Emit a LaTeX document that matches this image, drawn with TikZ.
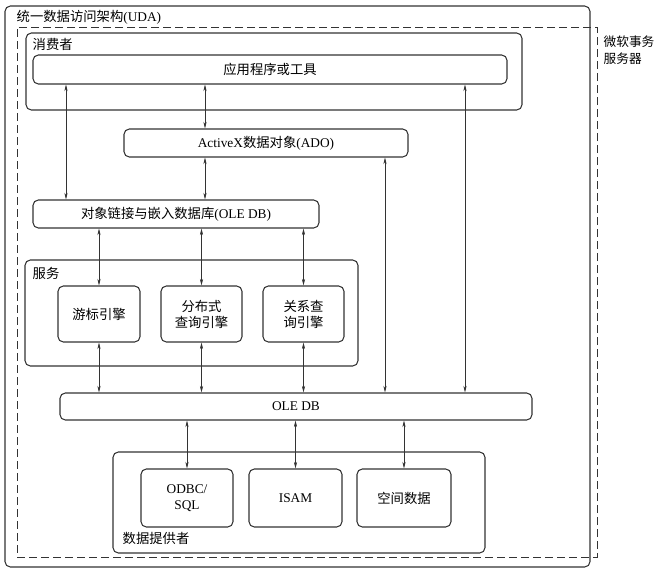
\documentclass[tikz,border=0pt]{standalone}
\usepackage{fontspec}
\setmainfont{Liberation Serif}
\newfontfamily\cjk{Noto Sans CJK SC}
\usetikzlibrary{arrows.meta}
\newcommand{\zh}[1]{{\cjk #1}}

\begin{document}
\begin{tikzpicture}[x=0.75pt,y=-0.75pt,
  every node/.style={font=\fontsize{10}{12}\selectfont},
  box/.style={draw=black!80,line width=0.8pt,rounded corners=4pt,inner sep=0pt},
  link/.style={draw=black!80,line width=0.4pt,{Stealth[length=5pt,width=2.4pt]}-{Stealth[length=5pt,width=2.4pt]}}]
  \useasboundingbox (0,0) rectangle (665,579);
  % outer frames
  \node[box,minimum width=438.75pt,minimum height=420.75pt] (uda) at (297.5,286.5) {};
  \node[anchor=west] (udat) at (12,17) {\zh{统一数据访问架构}(UDA)};
  \node[draw=black!80,dash pattern=on 6pt off 3pt,line width=0.5pt,minimum width=435pt,minimum height=397.5pt] (mts) at (307,292) {};
  \node[anchor=north west,align=left,font=\fontsize{9.5}{13}\selectfont] (mtst) at (599,31) {\zh{微软事务}\\\zh{服务器}};
  % consumer
  \node[box,minimum width=372pt,minimum height=57.75pt] (cons) at (274,71.5) {};
  \node[anchor=west] (const) at (28,44) {\zh{消费者}};
  \node[box,minimum width=355.5pt,minimum height=21.75pt] (app) at (270,69.5) {\zh{应用程序或工具}};
  % access layers
  \node[box,minimum width=213pt,minimum height=21pt] (ado) at (266,143) {ActiveX\zh{数据对象}(ADO)};
  \node[box,minimum width=214.5pt,minimum height=21pt] (oleobj) at (176,214) {\zh{对象链接与嵌入数据库}(OLE DB)};
  % services
  \node[box,minimum width=249.75pt,minimum height=79.5pt] (serv) at (191.5,313) {};
  \node[anchor=west] (servt) at (28,273) {\zh{服务}};
  \node[box,minimum width=61.5pt,minimum height=42pt] (cursor) at (99,314) {\zh{游标引擎}};
  \node[box,minimum width=60.75pt,minimum height=42pt,align=center] (distq) at (201.5,314) {\zh{分布式}\\\zh{查询引擎}};
  \node[box,minimum width=60.75pt,minimum height=42pt,align=center] (relq) at (303.5,314) {\zh{关系查}\\\zh{询引擎}};
  \node[box,minimum width=354pt,minimum height=20.25pt] (oledb) at (296,406.5) {OLE DB};
  % providers
  \node[box,minimum width=279pt,minimum height=75.75pt] (prov) at (299,502.5) {};
  \node[anchor=west] (provt) at (118,538) {\zh{数据提供者}};
  \node[box,minimum width=69pt,minimum height=43.5pt,align=center] (odbc) at (187,498) {ODBC/\\SQL};
  \node[box,minimum width=69.75pt,minimum height=43.5pt] (isam) at (295.5,498) {ISAM};
  \node[box,minimum width=70.5pt,minimum height=43.5pt] (spatial) at (404,498) {\zh{空间数据}};
  % connector columns
  \coordinate (colA) at (66,0);
  \coordinate (colB) at (205,0);
  \coordinate (colC) at (385,0);
  \coordinate (colD) at (465,0);
  \draw[link] (app.south -| colA) -- (oleobj.north -| colA);
  \draw[link] (app.south -| colB) -- (ado.north -| colB);
  \draw[link] (ado.south -| colB) -- (oleobj.north -| colB);
  \draw[link] (app.south -| colD) -- (oledb.north -| colD);
  \draw[link] (ado.south -| colC) -- (oledb.north -| colC);
  \foreach \e in {cursor,distq,relq}{
    \draw[link] (oleobj.south -| \e.north) -- (\e.north);
    \draw[link] (\e.south) -- (oledb.north -| \e.south);
  }
  \foreach \p in {odbc,isam,spatial}
    \draw[link] (oledb.south -| \p.north) -- (\p.north);
\end{tikzpicture}
\end{document}
